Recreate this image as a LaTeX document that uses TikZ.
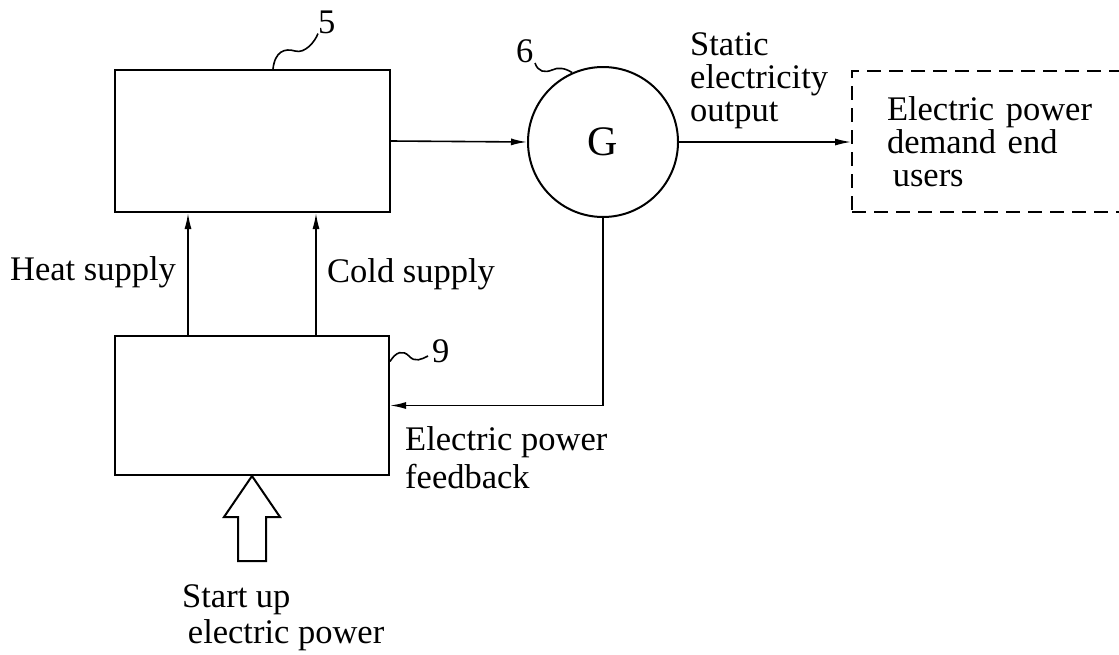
\documentclass[tikz,border=0pt]{standalone}
\usepackage{fontspec}
\setmainfont{Liberation Serif}
\usetikzlibrary{arrows.meta,positioning,calc}

\begin{document}
\begin{tikzpicture}[
  x=1pt, y=-1pt,
  font=\fontsize{34.5}{33}\selectfont,
  box/.style={draw, line width=2pt, inner sep=0pt},
  lbl/.style={inner sep=0pt, align=left, anchor=base west},
  flow/.style={-{Latex[length=16pt,width=7pt]}, line width=1.6pt},
  lead/.style={line width=1.6pt}
]
\useasboundingbox (0,0) rectangle (1119,654);

% Main boxes
\node[box, minimum width=275pt, minimum height=142pt] (unit5) at (252.5,141) {};
\node[box, minimum width=274pt, minimum height=139pt] (unit9) at (252,405.5) {};
\node[box, circle, minimum size=150pt, font=\fontsize{42}{42}\selectfont] (gen) at (603,142) {G};
\node[draw, line width=1.6pt, dash pattern=on 14pt off 8pt, minimum height=141pt,
      text width=215pt, inner xsep=35pt, inner ysep=0pt, align=left] (users) at (994.5,141.5)
  {Electric power\\ demand end\\ \,users};

% Reference numbers
\node[lbl] (lbl5) at (318,33) {5};
\node[lbl] (lbl6) at (516,62) {6};
\node[lbl] (lbl9) at (432,362) {9};

% Labels
\node[lbl] (heat) at (10,280) {Heat supply};
\node[lbl] (cold) at (327,282) {Cold supply};
\node[lbl] (out) at (690,121) {Static\\ electricity\\ output};
\node[lbl] (feed) at (405,488) {Electric power\\[5pt] feedback};
\node[lbl] (start) at (182,643) {Start up\\[3pt] \,electric power};

% Main flow
\draw[flow] ([xshift=-64pt]unit9.north) -- ([xshift=-64.5pt]unit5.south);
\draw[flow] ([xshift=64pt]unit9.north) -- ([xshift=63.5pt]unit5.south);
\draw[flow] (unit5.east) -- (gen.west);
\draw[flow] (gen.east) -- (gen.east -| users.west);
\draw[flow] (gen.south) |- (unit9.east);

% Start-up power input
\draw[line width=2pt, line join=miter] (unit9.south) -- ++(-28,41) -- ++(14,0) -- ++(0,44)
  -- ++(28,0) -- ++(0,-44) -- ++(14,0) -- cycle;

% Leader lines
\draw[lead] ([xshift=20.5pt]unit5.north) .. controls +(2,-18) and +(-10,-3) .. (295,51)
  .. controls +(10,3) and +(-3,8) .. (lbl5.south west);
\draw[lead] (535,63) .. controls (538,72) and (545,73) .. (552,70)
  .. controls (558,67) and (565,68) .. (gen.114);
\draw[lead] ([yshift=44pt]unit9.east) .. controls +(6,-10) and +(-6,-6) .. (409,356)
  .. controls +(6,7) and +(-6,3) .. (428,356);

\end{tikzpicture}
\end{document}
